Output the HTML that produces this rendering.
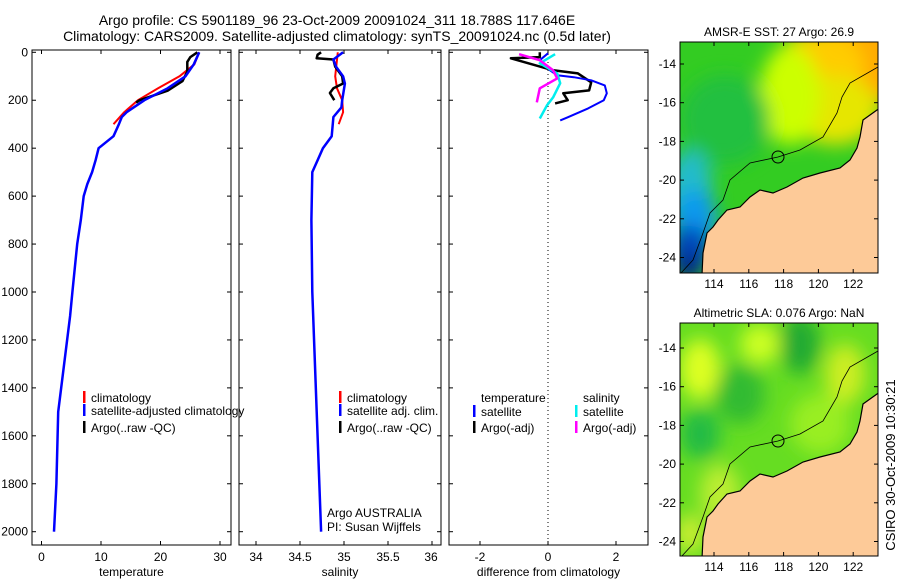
<!DOCTYPE html>
<html><head><meta charset="utf-8"><style>
body{margin:0;background:#fff}
svg{display:block;font-family:"Liberation Sans",sans-serif}
</style></head><body>
<svg id="fig" width="900" height="580" viewBox="0 0 900 580">
<defs>
<filter id="blur" x="-50%" y="-50%" width="200%" height="200%"><feGaussianBlur stdDeviation="9"/></filter>
<clipPath id="clipTop"><rect x="680" y="42" width="198" height="231"/></clipPath>
<clipPath id="clipBot"><rect x="680" y="323" width="198" height="233"/></clipPath>
</defs>
<text x="337" y="25" font-size="14" text-anchor="middle">Argo profile: CS 5901189_96 23-Oct-2009 20091024_311 18.788S 117.646E</text>
<text x="337" y="41" font-size="14" text-anchor="middle">Climatology: CARS2009. Satellite-adjusted climatology: synTS_20091024.nc (0.5d later)</text>
<g id="plots"></g>
<g id="maps"></g>
<text transform="translate(895,465) rotate(-90)" font-size="13" text-anchor="middle">CSIRO 30-Oct-2009 10:30:21</text>
</svg>
<script>
// ---------- data ----------
const depthTicks = [0,200,400,600,800,1000,1200,1400,1600,1800,2000];
const tempTicks = [0,10,20,30];
const salTicks = [34,34.5,35,35.5,36];
const diffTicks = [-2,0,2];
const tempClimDepth = [0,50,100,150,200,250,300];
const tempClim = [26.5,25.7,23.2,19.6,16.2,13.9,12.1];
const tempArgoDepth = [0,20,40,80,120,160,200,210];
const tempArgo = [26.2,25,24.5,24.5,23.7,21.2,16.5,15.9];
const tempSatDepth = [0,50,100,150,200,250,270,300,350,400,450,500,550,600,700,800,900,1000,1100,1500,1800,2000];
const tempSat = [26.5,25.6,24.2,21.2,17.3,14.3,13.5,13,12.1,9.6,9.1,8.5,7.7,7.1,6.6,6,5.6,5.2,4.8,2.8,2.5,2.1];
const salClimDepth = [0,100,150,200,250,300];
const salClim = [34.93,34.9,34.92,34.98,34.99,34.94];
const salArgoDepth = [0,10,25,30,60,100,130,150,170,200];
const salArgo = [34.74,34.7,34.69,34.88,34.9,34.98,34.99,34.88,34.84,34.89];
const salSatDepth = [0,30,60,100,130,200,230,270,350,400,450,500,700,1000,1500,2000];
const salSat = [34.99,34.88,34.91,34.99,35.01,34.98,34.97,34.88,34.86,34.76,34.7,34.64,34.63,34.64,34.69,34.74];
const dTempSatDepth = [4,33,75,96,104,117,138,171,200,234,271,284];
const dTempSat = [0,-0.24,0.06,0.27,0.76,1.27,1.67,1.73,1.64,1.18,0.58,0.36];
const dTempArgoDepth = [0,20,25,75,88,125,159,171,200,213];
const dTempArgo = [-0.24,-0.24,-1.09,0.15,0.88,1.27,1.21,0.45,0.58,0.21];
const dSalSatDepth = [8,46,88,129,188,221,276];
const dSalSat = [0.21,-0.24,0.27,0.36,0.15,-0.03,-0.24];
const dSalArgoDepth = [8,33,75,109,150,209];
const dSalArgo = [-0.85,-0.24,0.15,0.27,-0.24,-0.33];

const NS='http://www.w3.org/2000/svg';
function mk(tag,attrs,parent){const e=document.createElementNS(NS,tag);for(const k in attrs)e.setAttribute(k,attrs[k]);parent.appendChild(e);return e;}
const plots=document.getElementById('plots');
const yD=d=>52.3+0.2397*d;
const panels=[
 {name:'temperature',x0:32,x1:231,sx:v=>41.5+5.95*v,ticks:tempTicks,label:'temperature'},
 {name:'salinity',x0:239,x1:441,sx:v=>256+88*(v-34),ticks:salTicks,label:'salinity'},
 {name:'difference',x0:449,x1:648,sx:v=>548+34*v,ticks:diffTicks,label:'difference from climatology'}
];
panels.forEach((p,i)=>{
 const g=mk('g',{},plots);
 
 
 const fr=mk('rect',{x:p.x0,y:50,width:p.x1-p.x0,height:495,fill:'none',stroke:'#000','stroke-width':1},g);
 
 
 p.ticks.forEach(t=>{
  const x=p.sx(t);
  mk('line',{x1:x,y1:545,x2:x,y2:541,stroke:'#000'},g);
  mk('line',{x1:x,y1:50,x2:x,y2:54,stroke:'#000'},g);
  let lx=x; if(p.name==='salinity'&&t===36) lx=431;
  const tx=mk('text',{x:lx,y:561,'font-size':12,'text-anchor':'middle'},g);
  
  
  tx.textContent=String(t);
 });
 depthTicks.forEach(d=>{
  const y=yD(d);
  mk('line',{x1:p.x0,y1:y,x2:p.x0+4,y2:y,stroke:'#000'},g);
  mk('line',{x1:p.x1,y1:y,x2:p.x1-4,y2:y,stroke:'#000'},g);
  if(i===0){
   const tx=mk('text',{x:28,y:y+4,'font-size':12,'text-anchor':'end'},g);
   
   
   tx.textContent=String(d);
  }
 });
 const xl=mk('text',{x:(p.x0+p.x1)/2,y:576,'font-size':12,'text-anchor':'middle'},g);
 
 
 xl.textContent=p.label;
});
function line(px,depths,vals,color,w,name){
 const pts=depths.map((d,k)=>px.sx(vals[k]).toFixed(1)+','+yD(d).toFixed(1)).join(' ');
 const e=mk('polyline',{points:pts,fill:'none',stroke:color,'stroke-width':w,'stroke-linejoin':'round'},plots);
 
 
}
const [P1,P2,P3]=panels;
line(P1,tempClimDepth,tempClim,'#f00',2,'temperature-climatology-line');
line(P1,tempArgoDepth,tempArgo,'#000',2.5,'temperature-argo-line');
line(P1,tempSatDepth,tempSat,'#00f',2.5,'temperature-satellite-line');
line(P2,salClimDepth,salClim,'#f00',2,'salinity-climatology-line');
line(P2,salArgoDepth,salArgo,'#000',2.5,'salinity-argo-line');
line(P2,salSatDepth,salSat,'#00f',2.5,'salinity-satellite-line');
const dot=mk('line',{x1:548,y1:50,x2:548,y2:545,stroke:'#000','stroke-dasharray':'1,3'},plots);


line(P3,dTempArgoDepth,dTempArgo,'#000',2.5,'diff-temperature-argo-line');
line(P3,dTempSatDepth,dTempSat,'#00f',2,'diff-temperature-satellite-line');
line(P3,dSalSatDepth,dSalSat,'#0ee',2.5,'diff-salinity-satellite-line');
line(P3,dSalArgoDepth,dSalArgo,'#f0f',2.5,'diff-salinity-argo-line');
// legends
function leg(x,y,color,label,name){
 const g=mk('g',{},plots);
 
 
 if(color) mk('rect',{x:x,y:y-11,width:2.5,height:12,fill:color},g);
 const t=mk('text',{x:x+(color?8:0),y:y,'font-size':12},g);t.textContent=label;
}
leg(83,402,'#f00','climatology','legend-temp-climatology');
leg(83,415,'#00f','satellite-adjusted climatology','legend-temp-satellite');
leg(83,432,'#000','Argo(..raw -QC)','legend-temp-argo');
leg(339,402,'#f00','climatology','legend-sal-climatology');
leg(339,415,'#00f','satellite adj. clim.','legend-sal-satellite');
leg(339,432,'#000','Argo(..raw -QC)','legend-sal-argo');
leg(481,402,null,'temperature','legend-header-temperature');
leg(583,402,null,'salinity','legend-header-salinity');
leg(473,416,'#00f','satellite','legend-diff-temp-satellite');
leg(473,432,'#000','Argo(-adj)','legend-diff-temp-argo');
leg(575,416,'#0ee','satellite','legend-diff-sal-satellite');
leg(575,432,'#f0f','Argo(-adj)','legend-diff-sal-argo');
leg(327,517,null,'Argo AUSTRALIA','credit-argo-australia');
leg(327,531,null,'PI: Susan Wijffels','credit-pi');
// ---------- maps ----------
const maps=document.getElementById('maps');
const lonTicks=[114,116,118,120,122];
const latTicks=[14,16,18,20,22,24];
const coast=[[880,108],[877,110],[863,120],[860,137],[857,148],[850,160],[840,168],[820,173],[803,178],[787,187],[773,193],[760,190],[750,197],[740,207],[727,210],[718,220],[713,227],[707,233],[703,253],[702,275],[880,275]];
const contour=[[681,273],[693,260],[703,233],[710,213],[723,200],[730,180],[750,163],[778,157],[800,150],[823,137],[837,113],[842,97],[850,83],[878,67]];
function map(dy,top,h,title,clip,blobs,base,name){
 const g=mk('g',{},maps);
 
 
 const t=mk('text',{x:779,y:top-6,'font-size':12,'text-anchor':'middle'},g);
 
 
 t.textContent=title;
 const c=mk('g',{'clip-path':'url(#'+clip+')'},g);
 mk('rect',{x:680,y:top,width:198,height:h,fill:base},c);
 const bg=mk('g',{filter:'url(#blur)'},c);
 blobs.forEach(b=>mk('ellipse',{cx:b[0],cy:b[1]+dy,rx:b[2],ry:b[3],fill:b[4]},bg));
 const land=mk('polygon',{points:coast.map(p=>p[0]+','+(p[1]+dy)).join(' '),fill:'#fdca98',stroke:'#000','stroke-width':1.2},c);
 
 
 mk('polyline',{points:contour.map(p=>p[0]+','+(p[1]+dy)).join(' '),fill:'none',stroke:'#000','stroke-width':0.8},c);
 const ci=mk('circle',{cx:778,cy:157+dy,r:6,fill:'none',stroke:'#000'},g);
 
 
 mk('rect',{x:680,y:top,width:198,height:h,fill:'none',stroke:'#000'},g);
 lonTicks.forEach(l=>{const x=714+17.4*(l-114);
  mk('line',{x1:x,y1:top+h,x2:x,y2:top+h-4,stroke:'#000'},g);
  mk('line',{x1:x,y1:top,x2:x,y2:top+4,stroke:'#000'},g);
  const tx=mk('text',{x:x,y:top+h+15,'font-size':12,'text-anchor':'middle'},g);
  
  
  tx.textContent=String(l);});
 latTicks.forEach(l=>{const y=64+dy+19.35*(l-14);
  mk('line',{x1:680,y1:y,x2:684,y2:y,stroke:'#000'},g);
  mk('line',{x1:878,y1:y,x2:874,y2:y,stroke:'#000'},g);
  const tx=mk('text',{x:676,y:y+4,'font-size':12,'text-anchor':'end'},g);
  
  
  tx.textContent='-'+l;});
}
map(0,42,231,'AMSR-E SST: 27 Argo: 26.9','clipTop',[
 [865,60,55,45,'#ffaa00'],[820,65,45,35,'#ffcc00'],[835,110,45,35,'#e6e600'],[790,95,30,50,'#ccff00'],
 [725,120,45,45,'#22c040'],[690,190,22,40,'#22bbcc'],[695,220,22,30,'#1199ee'],[690,250,20,25,'#0044bb'],[688,268,14,14,'#001a80']
],'#33cc22','sst-map');
map(284,323,233,'Altimetric SLA: 0.076 Argo: NaN','clipBot',[
 [700,85,20,30,'#ddff22'],[760,60,20,20,'#ccff22'],[740,110,25,30,'#33bb33'],[800,60,20,30,'#22aa33'],[845,90,20,30,'#ccee22'],
 [820,140,30,30,'#99ee22'],[700,150,20,25,'#22bb44'],[720,210,20,30,'#bbee33'],[690,250,14,20,'#ccee33']
],'#66dd22','sla-map');
</script>
</body></html>
